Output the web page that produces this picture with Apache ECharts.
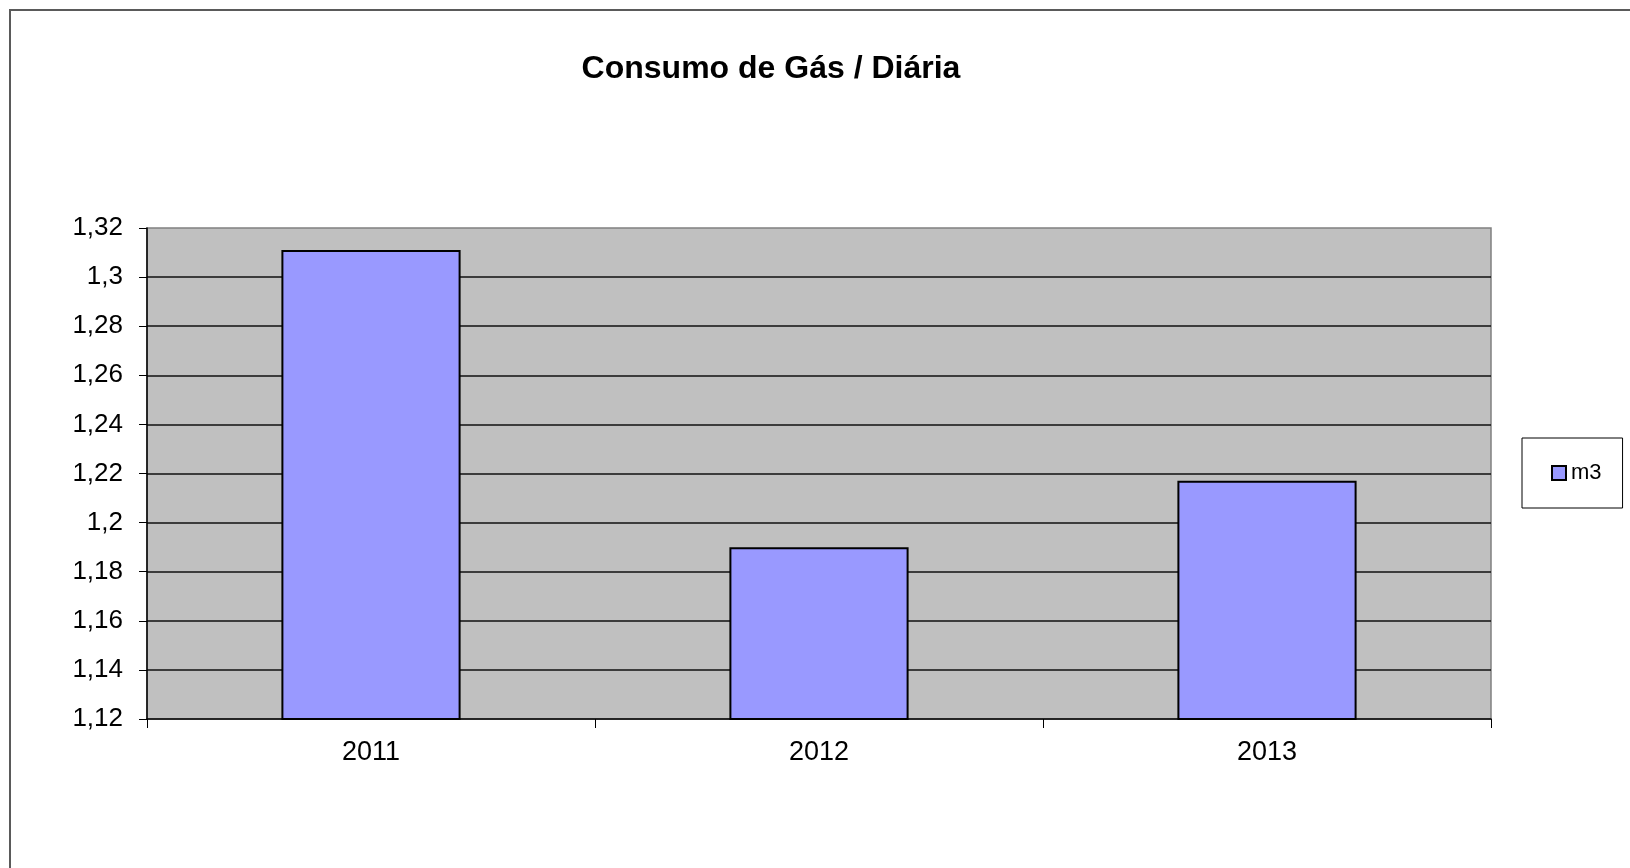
<!DOCTYPE html>
<html>
<head>
<meta charset="utf-8">
<script src="https://cdn.jsdelivr.net/npm/echarts@6/dist/echarts.min.js"></script>
<style>
html,body{margin:0;padding:0;background:#fff;}
#chart{width:1630px;height:868px;}
</style>
</head>
<body>
<div id="chart"></div>
<script>
const titleText = 'Consumo de Gás / Diária';
const categories = ['2011', '2012', '2013'];
const seriesName = 'm3';
const values = [1.311, 1.190, 1.217];
const yMin = 1.12, yMax = 1.32, yStep = 0.02;
const yTickLabels = ['1,12','1,14','1,16','1,18','1,2','1,22','1,24','1,26','1,28','1,3','1,32'];

const FONT = "'Liberation Sans', Arial, sans-serif";
const chart = echarts.init(document.getElementById('chart'), null, {renderer: 'canvas'});
chart.setOption({
  backgroundColor: '#ffffff',
  animation: false,
  title: {
    text: titleText,
    left: 766,
    top: 48,
    textAlign: 'center',
    textStyle: {fontFamily: FONT, fontSize: 32, fontWeight: 'bold', color: '#000'}
  },
  graphic: [{
    type: 'rect',
    shape: {x: 10, y: 10, width: 1700, height: 1000},
    style: {fill: 'none', stroke: '#5a5a5a', lineWidth: 2},
    silent: true,
    z: 100
  }],
  legend: {
    data: [seriesName],
    orient: 'vertical',
    left: 1522,
    top: 438,
    padding: [24, 21, 24, 29],
    borderColor: '#000',
    borderWidth: 1,
    itemWidth: 14,
    itemHeight: 14,
    itemGap: 6,
    icon: 'rect',
    itemStyle: {borderColor: '#000', borderWidth: 2},
    textStyle: {fontFamily: FONT, fontSize: 22, color: '#000', padding: [0, 0, 0, 0]}
  },
  grid: {
    left: 147, top: 228, width: 1344, height: 491,
    show: true,
    backgroundColor: '#c0c0c0',
    borderColor: '#808080',
    borderWidth: 1.5,
    containLabel: false
  },
  xAxis: {
    type: 'category',
    data: categories,
    boundaryGap: true,
    axisLine: {show: true, lineStyle: {color: '#000', width: 1.5}},
    axisTick: {show: true, inside: false, length: 9, alignWithLabel: false, lineStyle: {color: '#000', width: 1}},
    axisLabel: {fontFamily: FONT, fontSize: 27, color: '#000', margin: 20},
    splitLine: {show: false}
  },
  yAxis: {
    type: 'value',
    min: yMin,
    max: yMax,
    interval: yStep,
    axisLine: {show: true, lineStyle: {color: '#000', width: 1.5}},
    axisTick: {show: true, inside: false, length: 8, lineStyle: {color: '#000', width: 1}},
    axisLabel: {
      fontFamily: FONT, fontSize: 26, color: '#000', margin: 24,
      formatter: function (v) {
        const idx = Math.round((v - yMin) / yStep);
        return yTickLabels[idx] !== undefined ? yTickLabels[idx] : String(v).replace('.', ',');
      }
    },
    splitLine: {show: true, showMaxLine: false, showMinLine: false, lineStyle: {color: '#111', width: 1.6}}
  },
  series: [{
    name: seriesName,
    type: 'bar',
    data: values,
    barCategoryGap: '60%',
    itemStyle: {color: '#9999ff', borderColor: '#000', borderWidth: 2}
  }]
});
</script>
</body>
</html>
